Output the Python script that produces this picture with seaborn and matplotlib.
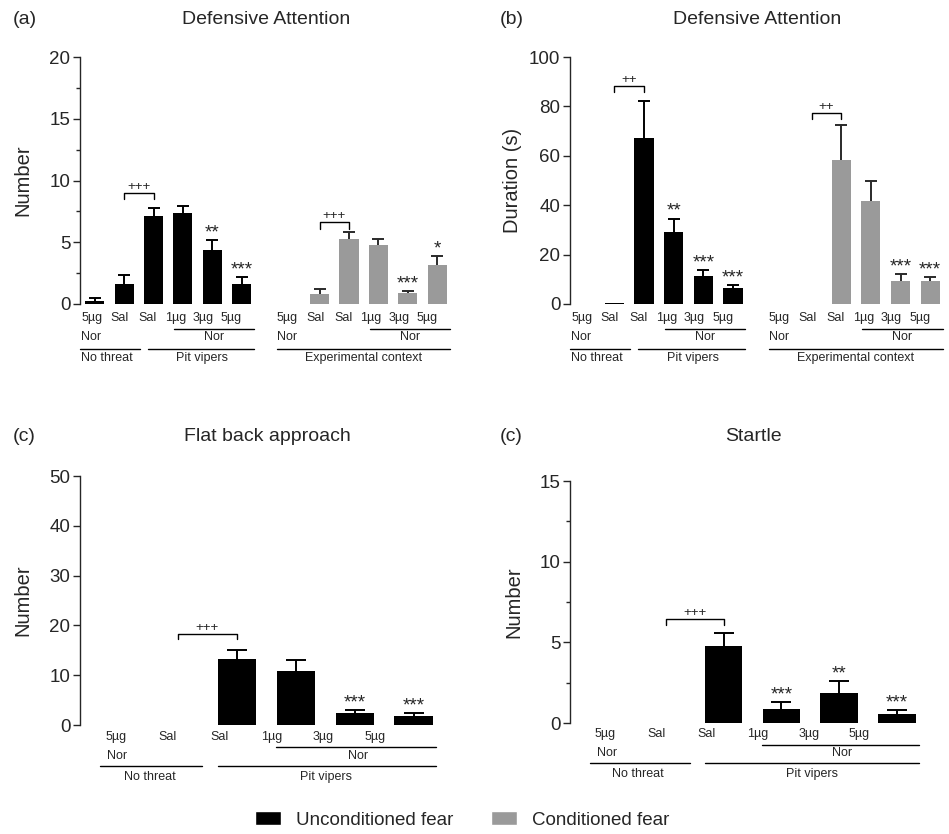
import matplotlib
matplotlib.use("Agg")
import matplotlib.pyplot as plt
from matplotlib.patches import Patch
import numpy as np
import pandas as pd
import seaborn as sns

# Datos (media y error estándar)
DOSES = ["5µg", "Sal", "Sal", "1µg", "3µg", "5µg"]

# (a) Defensive attention - número
a_unc_mean = [0.25, 1.65, 7.15, 7.4, 4.4, 1.65]
a_unc_sem = [0.2, 0.7, 0.6, 0.55, 0.75, 0.5]
a_unc_sig = ["", "", "", "", "**", "***"]
a_con_mean = [0.0, 0.8, 5.3, 4.8, 0.9, 3.15]
a_con_sem = [0.0, 0.45, 0.5, 0.5, 0.15, 0.75]
a_con_sig = ["", "", "", "", "***", "*"]

# (b) Defensive attention - duración
b_unc_mean = [0.0, 0.3, 67.2, 29.2, 11.2, 6.3]
b_unc_sem = [0.0, 0.0, 15.0, 5.4, 2.5, 1.4]
b_unc_sig = ["", "", "", "**", "***", "***"]
b_con_mean = [0.0, 0.2, 58.1, 41.8, 9.3, 9.3]
b_con_sem = [0.0, 0.0, 14.3, 7.9, 2.7, 1.75]
b_con_sig = ["", "", "", "", "***", "***"]

# (c) Flat back approach
c_mean = [0.0, 0.0, 13.2, 10.8, 2.35, 1.9]
c_sem = [0.0, 0.0, 1.9, 2.25, 0.65, 0.45]
c_sig = ["", "", "", "", "***", "***"]

# (c) Startle
d_mean = [0.0, 0.0, 4.75, 0.87, 1.86, 0.56]
d_sem = [0.0, 0.0, 0.85, 0.41, 0.72, 0.22]
d_sig = ["", "", "", "***", "**", "***"]

BLACK = "#000000"
GRAY = "#9a9a9a"

W, H = 949, 834
sns.set_style("ticks")
plt.rcParams["font.family"] = ["Liberation Sans", "DejaVu Sans"]
plt.rcParams["axes.linewidth"] = 1.0

fig = plt.figure(figsize=(W / 100, H / 100), dpi=100)


def make_ax(left, right, bottom, top):
    # coordenadas en pixeles de la imagen
    return fig.add_axes([left / W, 1 - bottom / H, (right - left) / W, (bottom - top) / H])


def draw_bars(ax, offset, means, sems, sigs, color, label, ecolor, capsize):
    pos = [offset + i for i in range(len(means))]
    df = pd.DataFrame({"pos": pos, "val": means, "fear": label})
    sns.barplot(data=df, x="pos", y="val", hue="fear", palette={label: color},
                native_scale=True, width=0.65, errorbar=None, legend=False,
                saturation=1, linewidth=0, ax=ax)
    for p, m, s, sg in zip(pos, means, sems, sigs):
        if s > 0:
            eb = ax.errorbar([p], [m], yerr=[[0], [s]], fmt="none", ecolor=ecolor,
                             elinewidth=1.4, capsize=capsize, capthick=1.4, zorder=3)
            eb[1][0].set_visible(False)  # sin tapa inferior
        if sg:
            ax.annotate(sg, (p, m + s), xytext=(0, -1), textcoords="offset points",
                        ha="center", va="bottom", fontsize=13.5, clip_on=False)


def bracket(ax, x1, x2, y, leg, txt):
    ax.plot([x1, x1, x2, x2], [y - leg, y, y, y - leg], color="black", lw=1.0,
            clip_on=False)
    ax.text((x1 + x2) / 2, y, txt, ha="center", va="bottom", fontsize=9.5)


def hline(ax, hpx, x1, x2, dy):
    ax.plot([x1, x2], [-dy / hpx] * 2, color="black", lw=1.0,
            transform=ax.get_xaxis_transform(), clip_on=False)


def label(ax, hpx, x, dy, text, ha="center"):
    ax.text(x, -dy / hpx, text, transform=ax.get_xaxis_transform(), ha=ha,
            va="center", fontsize=9, clip_on=False)


def style_axis(ax, ymax, major, minor, ylabel, xlim):
    ax.set_xlim(*xlim)
    ax.set_ylim(0, ymax)
    ax.set_xticks([])
    ax.set_yticks(np.arange(0, ymax + 0.01, major))
    if minor:
        ax.set_yticks(np.arange(0, ymax + 0.01, minor), minor=True)
    ax.tick_params(axis="y", which="major", length=5, width=1, labelsize=13.5, pad=2)
    ax.tick_params(axis="y", which="minor", length=3, width=1)
    ax.set_xlabel("")
    ax.set_ylabel(ylabel, fontsize=14.5)
    sns.despine(ax=ax, bottom=True)


# ---------- fila superior ----------
G2 = 6.65
for key, (left, right) in {"a": (80, 449), "b": (570, 942)}.items():
    ax = make_ax(left, right, 304, 57)
    hpx = 247
    if key == "a":
        unc = (a_unc_mean, a_unc_sem, a_unc_sig)
        con = (a_con_mean, a_con_sem, a_con_sig)
        ymax, major, minor, ylab = 20, 5, 2.5, "Number"
        br1, br2, leg, txt = 9.0, 6.6, 0.5, "+++"
    else:
        unc = (b_unc_mean, b_unc_sem, b_unc_sig)
        con = (b_con_mean, b_con_sem, b_con_sig)
        ymax, major, minor, ylab = 100, 20, None, "Duration (s)"
        br1, br2, leg, txt = 88.3, 77.4, 2.4, "++"
    draw_bars(ax, 0, *unc, BLACK, "Unconditioned fear", "black", 4.5)
    draw_bars(ax, G2, *con, GRAY, "Conditioned fear", "#2a2a2a", 4.5)
    style_axis(ax, ymax, major, minor, ylab, (-0.5, 12.05))
    ax.yaxis.set_label_coords(-0.13, 0.5)
    bracket(ax, 1, 2, br1, leg, txt)
    bracket(ax, G2 + 1, G2 + 2, br2, leg, txt)
    for off in (0, G2):
        for i, d in enumerate(DOSES):
            label(ax, hpx, off - 0.1 + i * 0.95, 14, d)
        label(ax, hpx, off - 0.45, 33, "Nor", ha="left")
        hline(ax, hpx, off + 2.7, off + 5.42, 25)
        label(ax, hpx, off + 4.06, 33, "Nor")
    hline(ax, hpx, -0.5, 1.53, 45)
    hline(ax, hpx, 1.8, 5.42, 45)
    hline(ax, hpx, G2 - 0.45, G2 + 5.42, 45)
    label(ax, hpx, -0.45, 54, "No threat", ha="left")
    label(ax, hpx, 3.65, 54, "Pit vipers")
    label(ax, hpx, G2 + 2.5, 54, "Experimental context")

# ---------- fila inferior ----------
for key, (left, right, bottom, top) in {"c": (80, 436, 725, 476),
                                        "d": (570, 919, 723, 481)}.items():
    ax = make_ax(left, right, bottom, top)
    hpx = bottom - top
    if key == "c":
        mean, sem, sig = c_mean, c_sem, c_sig
        ymax, major, minor = 50, 10, None
        br, leg = 18.3, 1.1
        rows = (12, 22, 31, 41, 52)
    else:
        mean, sem, sig = d_mean, d_sem, d_sig
        ymax, major, minor = 15, 5, 2.5
        br, leg = 6.43, 0.35
        rows = (11, 22, 30, 40, 51)
    draw_bars(ax, 0, mean, sem, sig, BLACK, "Unconditioned fear", "black", 7)
    style_axis(ax, ymax, major, minor, "Number", (-0.66, 5.38))
    ax.yaxis.set_label_coords(-0.135, 0.5)
    bracket(ax, 1, 2, br, leg, "+++")
    for i, d in enumerate(DOSES):
        label(ax, hpx, -0.05 + i * 0.88, rows[0], d)
    hline(ax, hpx, 2.66, 5.38, rows[1])
    label(ax, hpx, -0.2, rows[2], "Nor", ha="left")
    label(ax, hpx, 4.05, rows[2], "Nor")
    hline(ax, hpx, -0.32, 1.41, rows[3])
    hline(ax, hpx, 1.68, 5.38, rows[3])
    label(ax, hpx, 0.52, rows[4], "No threat")
    label(ax, hpx, 3.52, rows[4], "Pit vipers")

# títulos y etiquetas de panel
titles = [("(a)", 13, 20, "Defensive Attention", 266),
          ("(b)", 500, 20, "Defensive Attention", 757),
          ("(c)", 13, 437, "Flat back approach", 267),
          ("(c)", 500, 437, "Startle", 753)]
for lab, lx, y, title, tx in titles:
    fig.text(lx / W, 1 - y / H, lab, ha="left", va="center", fontsize=14)
    fig.text(tx / W, 1 - y / H, title, ha="center", va="center", fontsize=14)

handles = [Patch(facecolor=BLACK, label="Unconditioned fear"),
           Patch(facecolor=GRAY, label="Conditioned fear")]
fig.legend(handles=handles, loc="center", bbox_to_anchor=(462 / W, 1 - 820 / H),
           ncol=2, frameon=False, fontsize=13.5, handlelength=1.4,
           handleheight=0.7, handletextpad=0.8, columnspacing=2.0)

fig.savefig("out.png", dpi=100)
